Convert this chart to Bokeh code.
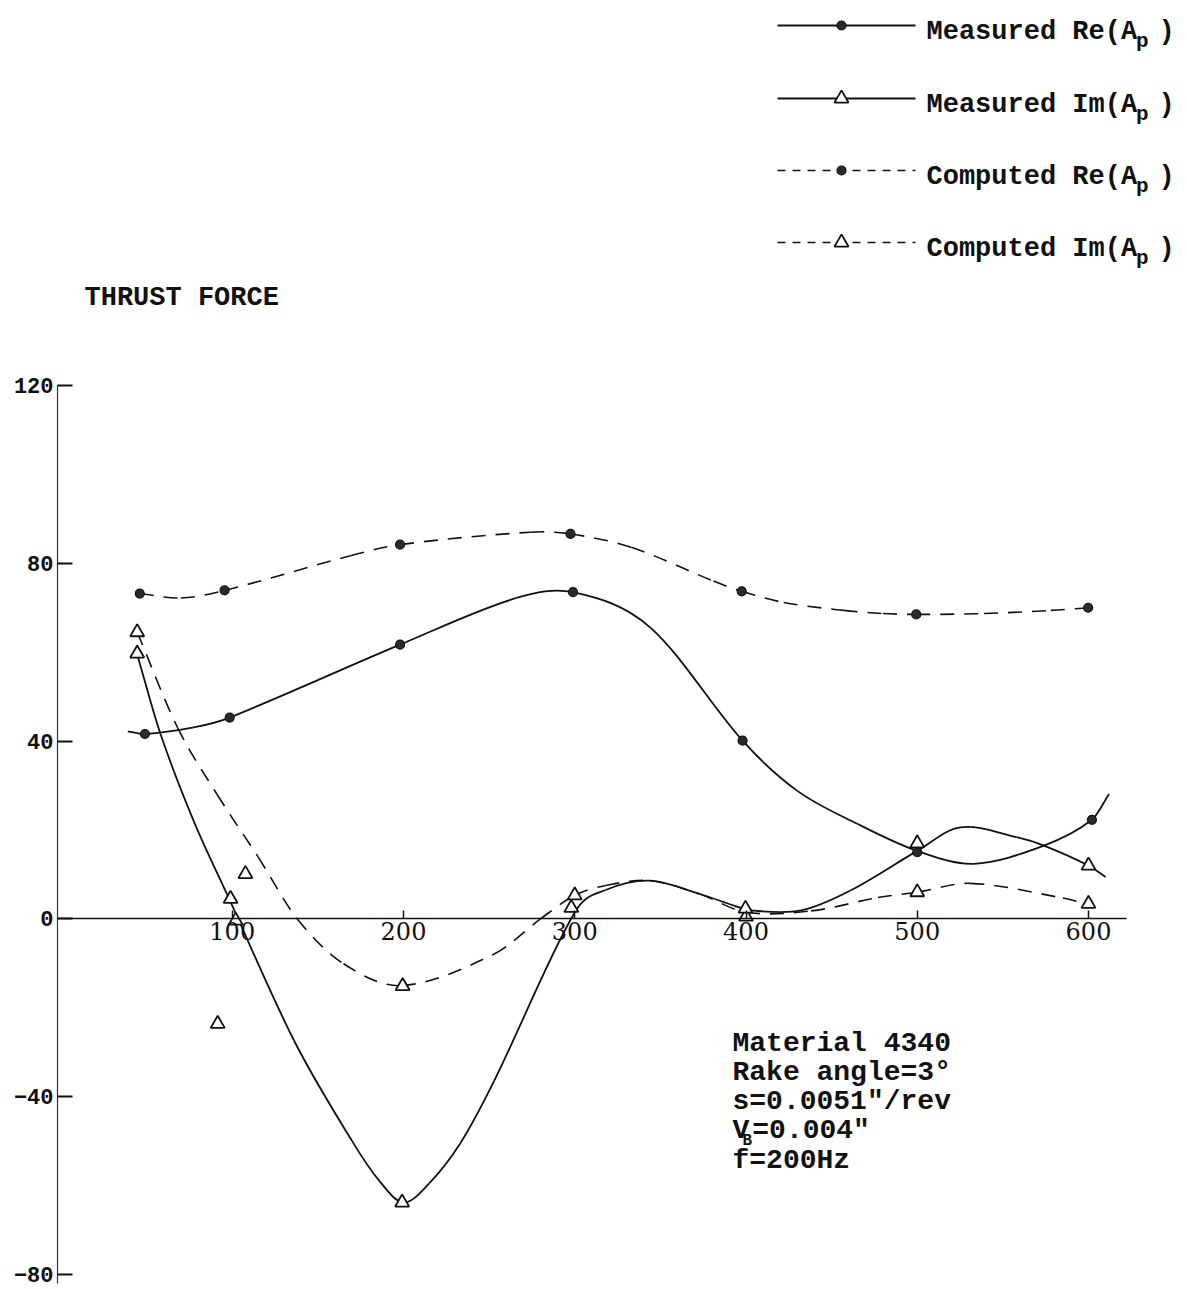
import numpy as np
from bokeh.plotting import figure
from bokeh.models import Range1d, LinearAxis, FixedTicker, Label, ColumnDataSource
from bokeh.embed import file_html
from bokeh.resources import INLINE

# ---------------- data ----------------
freq_ticks = [100, 200, 300, 400, 500, 600]
force_ticks = [-80, -40, 0, 40, 80, 120]

# plotted points
meas_re_x = [49, 98.5, 198, 299, 398, 500, 602]
meas_re_y = [41.6, 45.3, 61.7, 73.5, 40.1, 15.0, 22.3]
meas_im_x = [44.5, 99, 102, 199.2, 298, 399.7, 500, 600]
meas_im_y = [59.7, 4.5, -0.4, -63.8, 2.5, 2.3, 17.0, 12.0]
comp_re_x = [46, 95.5, 198, 297.5, 397.5, 499.4, 599.8]
comp_re_y = [73.2, 73.9, 84.2, 86.6, 73.7, 68.5, 70.0]
comp_im_x = [44.5, 107.7, 91.5, 199.5, 300, 400, 500, 600]
comp_im_y = [64.5, 10.1, -23.6, -15.1, 5.3, 0.5, 6.0, 3.4]

# hand-drawn curves (knots along each faired curve)
meas_re_curve_x = [39, 49, 77.5, 98.5, 198, 266, 299, 344, 398,
                   430, 465, 500, 533, 574, 602, 612]
meas_re_curve_y = [42.2, 41.6, 43.1, 45.3, 61.7, 72.2, 73.5, 65.6,
                   40.1, 28.8, 21.4, 15.3, 12.4, 16.5, 22.3, 28.1]
meas_im_curve_x = [44.5, 58, 77.5, 97, 136, 170, 186, 200, 215, 233, 253,
                   300, 318, 344, 373, 393, 403, 432, 461, 500, 525, 558, 574,
                   600, 610]
meas_im_curve_y = [59.5, 41.7, 22.0, 5.5, -27.3, -50.0, -59.0, -63.8, -59.5,
                   -50.6, -36.4, 1.5, 6.5, 8.6, 5.6, 3.0, 1.9, 1.9, 6.4,
                   15.3, 20.6, 18.4, 16.5, 12.0, 9.4]
comp_re_curve_x = [46, 70, 95.5, 169, 198, 274, 297.5, 333, 381, 397.5, 422,
                   457, 480, 499.4, 539, 578, 599.8]
comp_re_curve_y = [73.2, 72.2, 73.9, 81.7, 84.2, 87.0, 86.6, 83.6, 76.0, 73.7,
                   71.2, 69.4, 68.7, 68.5, 68.7, 69.4, 70.0]
comp_im_curve_x = [44.5, 68, 91, 115, 138, 165, 199, 253, 280, 300, 318, 344,
                   373, 400, 438, 477, 500, 531, 585, 600]
comp_im_curve_y = [64.5, 43.1, 28.1, 14.0, 0.0, -10.1, -15.0, -7.9, 0.0, 5.3,
                   7.5, 8.6, 5.6, 1.5, 1.8, 4.8, 6.0, 8.0, 4.7, 3.2]

legend_names = ["Measured Re(A", "Measured Im(A", "Computed Re(A", "Computed Im(A"]

notes = ["Material 4340", "Rake angle=3\u00b0", "s=0.0051\"/rev"]
note_vb = ("V", "B", "=0.004\"")
note_f = "f=200Hz"
title_text = "THRUST FORCE"

# ---------------- page geometry ----------------
W, H = 1187, 1289
X0_PX, PX_PER_X = 60.5, 1.7125   # pixel of frequency 0, pixels per unit
Y0_PX, PX_PER_Y = 918.4, 4.445   # pixel of force 0, pixels per unit
FRAME_LEFT = 57


def dx(px):
    return (px - X0_PX) / PX_PER_X


def dy(py):
    return (Y0_PX - py) / PX_PER_Y


MONO = "Liberation Mono"
INK = "#111111"

p = figure(width=W, height=H, x_range=Range1d(dx(FRAME_LEFT), dx(W)),
           y_range=Range1d(dy(H), dy(0)), x_axis_type=None, y_axis_type=None,
           min_border_left=FRAME_LEFT, min_border_right=0, min_border_top=0,
           min_border_bottom=0, toolbar_location=None, output_backend="svg")
p.outline_line_color = None
p.background_fill_color = "white"
p.border_fill_color = "white"

# ---------------- axes ----------------
yaxis = LinearAxis(ticker=FixedTicker(ticks=force_ticks), bounds=(-82, 120),
                   axis_line_color="#333333", axis_line_width=1.2,
                   major_tick_in=15, major_tick_out=0, major_tick_line_width=2,
                   major_tick_line_color=INK, minor_tick_line_color=None,
                   major_label_standoff=4, major_label_text_font=MONO,
                   major_label_text_font_size="22px",
                   major_label_text_font_style="bold",
                   major_label_text_color=INK)
p.add_layout(yaxis, "left")

xaxis = LinearAxis(fixed_location=0, ticker=FixedTicker(ticks=freq_ticks),
                   bounds=(dx(FRAME_LEFT), 622), axis_line_color=INK,
                   axis_line_width=1.6, major_tick_in=8, major_tick_out=0,
                   major_tick_line_width=1.5, major_tick_line_color=INK,
                   minor_tick_line_color=None, major_label_standoff=3,
                   major_label_text_font="DejaVu Serif",
                   major_label_text_font_size="24px",
                   major_label_text_color=INK)
p.add_layout(xaxis, "below")


# ---------------- faired curves ----------------
def faired(xs, ys):
    """Cubic Bezier pieces through the knots (tangents from neighbouring knots)."""
    xs = np.asarray(xs, dtype=float)
    ys = np.asarray(ys, dtype=float)
    m = np.empty_like(ys)
    m[0] = (ys[1] - ys[0]) / (xs[1] - xs[0])
    m[-1] = (ys[-1] - ys[-2]) / (xs[-1] - xs[-2])
    m[1:-1] = (ys[2:] - ys[:-2]) / (xs[2:] - xs[:-2])
    h = np.diff(xs)
    return ColumnDataSource(dict(
        x0=xs[:-1], y0=ys[:-1], x1=xs[1:], y1=ys[1:],
        cx0=xs[:-1] + h / 3, cy0=ys[:-1] + m[:-1] * h / 3,
        cx1=xs[1:] - h / 3, cy1=ys[1:] - m[1:] * h / 3))


SOLID = dict(line_color=INK, line_width=1.8)
DASHED = dict(line_color=INK, line_width=1.6, line_dash="14 10")

BEZ = dict(x0="x0", y0="y0", x1="x1", y1="y1", cx0="cx0", cy0="cy0",
           cx1="cx1", cy1="cy1")
p.bezier(source=faired(comp_re_curve_x, comp_re_curve_y), **BEZ, **DASHED)
p.bezier(source=faired(comp_im_curve_x, comp_im_curve_y), **BEZ, **DASHED)
p.bezier(source=faired(meas_re_curve_x, meas_re_curve_y), **BEZ, **SOLID)
p.bezier(source=faired(meas_im_curve_x, meas_im_curve_y), **BEZ, **SOLID)

# ---------------- point markers ----------------
DOT = dict(marker="circle", size=9, fill_color="#2a2a2a", line_color=INK,
           line_width=1.2)
TRI = dict(marker="triangle", size=14, fill_color="white", line_color=INK,
           line_width=1.8)

p.scatter(comp_re_x, comp_re_y, **DOT)
p.scatter(meas_re_x, meas_re_y, **DOT)
p.scatter(comp_im_x, comp_im_y, **TRI)
p.scatter(meas_im_x, meas_im_y, **TRI)

# ---------------- key ----------------
key_rows_px = [25, 98, 170, 242]
key_styles = [(SOLID, DOT), (SOLID, TRI), (DASHED, DOT), (DASHED, TRI)]
CH = 0.6 * 27  # monospace advance at 27px
for name, row_py, (ln, mk) in zip(legend_names, key_rows_px, key_styles):
    sample = dict(ln)
    if "line_dash" in sample:
        sample["line_dash"] = "8 7"
    p.line([dx(777), dx(915)], [dy(row_py), dy(row_py)], **sample)
    p.scatter([dx(841)], [dy(row_py)], **mk)
    p.add_layout(Label(x=dx(926), y=dy(row_py + 6), text=name, text_font=MONO,
                       text_font_size="27px", text_font_style="bold",
                       text_color=INK, text_baseline="alphabetic"))
    p.add_layout(Label(x=dx(926 + 13 * CH - 1), y=dy(row_py + 16), text="p",
                       text_font=MONO, text_font_size="21px",
                       text_font_style="bold", text_color=INK,
                       text_baseline="alphabetic"))
    p.add_layout(Label(x=dx(1158), y=dy(row_py + 6), text=")", text_font=MONO,
                       text_font_size="27px", text_font_style="bold",
                       text_color=INK, text_baseline="alphabetic"))

# ---------------- titles and notes ----------------
p.add_layout(Label(x=dx(84), y=dy(297), text=title_text, text_font=MONO,
                   text_font_size="27px", text_font_style="bold",
                   text_color=INK, text_baseline="alphabetic"))

NOTE = dict(text_font=MONO, text_font_size="28px", text_font_style="bold",
            text_color=INK, text_baseline="alphabetic")
note_left = 732
note_baselines = [1043, 1072, 1101, 1130, 1160]
for txt, base in zip(notes, note_baselines[:3]):
    p.add_layout(Label(x=dx(note_left), y=dy(base), text=txt, **NOTE))
p.add_layout(Label(x=dx(note_left), y=dy(note_baselines[3]), text=note_vb[0],
                   **NOTE))
p.add_layout(Label(x=dx(note_left + 10), y=dy(note_baselines[3] + 10),
                   text=note_vb[1], text_font=MONO, text_font_size="16px",
                   text_font_style="bold", text_color=INK,
                   text_baseline="alphabetic"))
p.add_layout(Label(x=dx(note_left + 0.6 * 28 + 3), y=dy(note_baselines[3]),
                   text=note_vb[2], **NOTE))
p.add_layout(Label(x=dx(note_left), y=dy(note_baselines[4]), text=note_f,
                   **NOTE))

open("out.html", "w").write(file_html(p, INLINE))
